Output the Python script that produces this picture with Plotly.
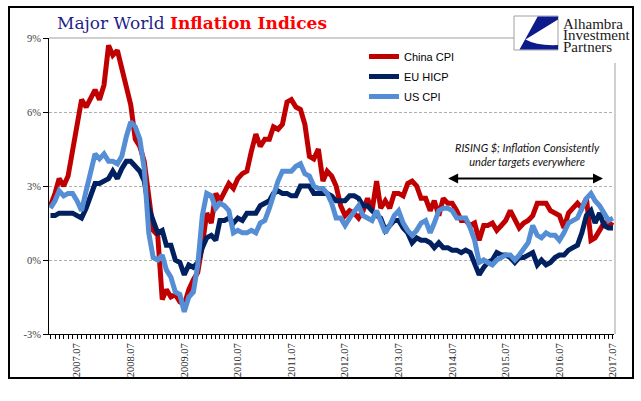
import pandas as pd
import plotly.graph_objects as go

# ---------------- data (monthly, Jan 2007 - Jul 2017, % y/y) ----------------
months = pd.date_range("2007-01-01", "2017-07-01", freq="MS")

china_cpi = [
    2.2, 2.7, 3.3, 3.0, 3.4, 4.4, 5.6, 6.5, 6.2, 6.5, 6.9, 6.5,
    7.1, 8.7, 8.3, 8.5, 7.7, 7.1, 6.3, 4.9, 4.6, 4.0, 2.4, 1.2,
    1.0, -1.6, -1.2, -1.5, -1.4, -1.7, -1.8, -1.2, -0.8, -0.5, 0.6, 1.9,
    1.5, 2.7, 2.4, 2.8, 3.1, 2.9, 3.3, 3.5, 3.6, 4.4, 5.1, 4.6,
    4.9, 4.9, 5.4, 5.3, 5.5, 6.4, 6.5, 6.2, 6.1, 5.5, 4.2, 4.1,
    4.5, 3.2, 3.6, 3.4, 3.0, 2.2, 1.8, 2.0, 1.9, 1.7, 2.0, 2.5,
    2.0, 3.2, 2.1, 2.4, 2.1, 2.7, 2.7, 2.6, 3.1, 3.2, 3.0, 2.5,
    2.5, 2.0, 2.4, 1.8, 2.5, 2.3, 2.3, 2.0, 1.6, 1.6, 1.4, 1.5,
    0.8, 1.4, 1.4, 1.5, 1.2, 1.4, 1.6, 2.0, 1.6, 1.3, 1.5, 1.6,
    1.8, 2.3, 2.3, 2.3, 2.0, 1.9, 1.8, 1.3, 1.9, 2.1, 2.3, 2.1,
    2.5, 0.8, 0.9, 1.2, 1.5, 1.5, 1.4,
]
eu_hicp = [
    1.8, 1.8, 1.9, 1.9, 1.9, 1.9, 1.8, 1.7, 2.1, 2.6, 3.1, 3.1,
    3.2, 3.3, 3.6, 3.3, 3.7, 4.0, 4.0, 3.8, 3.6, 3.2, 2.1, 1.6,
    1.1, 1.2, 0.6, 0.6, 0.0, -0.1, -0.6, -0.2, -0.3, -0.1, 0.5, 0.9,
    1.0, 0.8, 1.6, 1.6, 1.7, 1.5, 1.7, 1.6, 1.9, 1.9, 1.9, 2.2,
    2.3, 2.4, 2.7, 2.8, 2.7, 2.7, 2.6, 2.6, 3.0, 3.0, 3.0, 2.7,
    2.7, 2.7, 2.7, 2.6, 2.4, 2.4, 2.4, 2.6, 2.6, 2.5, 2.2, 2.2,
    2.0, 1.8, 1.7, 1.2, 1.4, 1.6, 1.6, 1.3, 1.1, 0.7, 0.9, 0.8,
    0.8, 0.7, 0.5, 0.7, 0.5, 0.5, 0.4, 0.4, 0.3, 0.4, 0.3, -0.2,
    -0.6, -0.3, -0.1, 0.0, 0.3, 0.2, 0.2, 0.1, -0.1, 0.1, 0.1, 0.2,
    0.3, -0.2, 0.0, -0.2, -0.1, 0.1, 0.2, 0.2, 0.4, 0.5, 0.6, 1.1,
    1.8, 2.0, 1.5, 1.9, 1.4, 1.3, 1.3,
]
us_cpi = [
    2.1, 2.4, 2.8, 2.6, 2.7, 2.7, 2.4, 2.0, 2.8, 3.5, 4.3, 4.1,
    4.3, 4.0, 4.0, 3.9, 4.2, 5.0, 5.6, 5.4, 4.9, 3.7, 1.1, 0.1,
    0.0, 0.2, -0.4, -0.7, -1.3, -1.4, -2.1, -1.5, -1.3, -0.2, 1.8, 2.7,
    2.6, 2.1, 2.3, 2.2, 2.0, 1.1, 1.2, 1.1, 1.1, 1.2, 1.1, 1.5,
    1.6, 2.1, 2.7, 3.2, 3.6, 3.6, 3.6, 3.8, 3.9, 3.5, 3.4, 3.0,
    2.9, 2.9, 2.7, 2.3, 1.7, 1.7, 1.4, 1.7, 2.0, 2.2, 1.8, 1.7,
    1.6, 2.0, 1.5, 1.1, 1.4, 1.8, 2.0, 1.5, 1.2, 1.0, 1.2, 1.5,
    1.6, 1.1, 1.5, 2.0, 2.1, 2.1, 2.0, 1.7, 1.7, 1.7, 1.3, 0.8,
    -0.1, 0.0, -0.1, -0.2, 0.0, 0.1, 0.2, 0.2, 0.0, 0.2, 0.5, 0.7,
    1.4, 1.0, 0.9, 1.1, 1.0, 1.0, 0.8, 1.1, 1.5, 1.6, 1.7, 2.1,
    2.5, 2.7, 2.4, 2.2, 1.9, 1.6, 1.7,
]

series_names = ["China CPI", "EU HICP", "US CPI"]
series_colors = ["#C00000", "#002060", "#558ED5"]

x_tickvals = [f"{y}-07-01" for y in range(2007, 2018)]
x_ticktext = [f"{y}.07" for y in range(2007, 2018)]
y_tickvals = [-3, 0, 3, 6, 9]
y_ticktext = ["-3%", "0%", "3%", "6%", "9%"]

# ---------------- layout helpers (pixel -> paper) ----------------
W, H = 641, 401
PL, PR, PT, PB = 49, 614, 38, 334


def fx(px):
    return (px - PL) / (PR - PL)


def fy(py):
    return (PB - py) / (PB - PT)


fig = go.Figure()
for name, vals, col in zip(series_names, [china_cpi, eu_hicp, us_cpi], series_colors):
    fig.add_trace(go.Scatter(
        x=months, y=vals, mode="lines", name=name, legendgroup=name,
        line=dict(color=col, width=5), hoverinfo="skip",
    ))

fig.update_layout(
    width=W, height=H,
    margin=dict(l=PL, r=W - PR, t=PT, b=H - PB, pad=0),
    paper_bgcolor="white", plot_bgcolor="white",
    hovermode=False,
    showlegend=True,
    legend=dict(
        x=fx(364), y=fy(42), xanchor="left", yanchor="top",
        bgcolor="rgba(0,0,0,0)", borderwidth=0, tracegroupgap=1,
        font=dict(family="Liberation Sans, Arial", size=11, color="#000000"),
    ),
    xaxis=dict(
        type="date",
        range=["2006-12-22", "2017-07-08"],
        tickmode="array", tickvals=x_tickvals, ticktext=x_ticktext,
        tickangle=-90,
        ticks="outside", ticklen=4, tickcolor="#000000",
        showline=True, linecolor="#000000", linewidth=1,
        showgrid=False, zeroline=False,
        tickfont=dict(family="Liberation Serif, Times New Roman", size=10.5, color="#262626"),
        minor=dict(ticks="outside", ticklen=4, tickcolor="#000000",
                   dtick="M1", tick0="2007-01-01", showgrid=False),
    ),
    yaxis=dict(
        range=[-3, 9],
        tickmode="array", tickvals=y_tickvals, ticktext=y_ticktext,
        ticks="outside", ticklen=5, tickcolor="#000000",
        showline=True, linecolor="#000000", linewidth=1,
        showgrid=True, gridcolor="#B0B0B0", gridwidth=1, griddash="3px,2px",
        zeroline=False,
        tickfont=dict(family="Liberation Serif, Times New Roman", size=10.5, color="#404040"),
    ),
)

shapes = []
# white patch behind the logo (hides grid at top right)
shapes.append(dict(type="rect", xref="paper", yref="paper",
                   x0=fx(511), x1=fx(632), y0=fy(60), y1=fy(9),
                   line=dict(width=0), fillcolor="white", layer="above"))
# plot border: top (solid) and right
shapes.append(dict(type="line", xref="paper", yref="paper",
                   x0=fx(49), x1=fx(514), y0=fy(38), y1=fy(38),
                   line=dict(color="#A0A0A0", width=1), layer="above"))
shapes.append(dict(type="line", xref="paper", yref="paper",
                   x0=fx(615), x1=fx(615), y0=fy(63), y1=fy(334),
                   line=dict(color="#A0A0A0", width=1), layer="above"))
# outer frame
shapes.append(dict(type="rect", xref="paper", yref="paper",
                   x0=fx(9), x1=fx(633), y0=fy(378), y1=fy(7),
                   line=dict(color="#000000", width=2), fillcolor="rgba(0,0,0,0)", layer="above"))
# logo box
shapes.append(dict(type="rect", xref="paper", yref="paper",
                   x0=fx(514), x1=fx(558), y0=fy(50), y1=fy(16),
                   line=dict(color="#A0A0A0", width=1), fillcolor="white", layer="above"))


def P(px, py):
    return f"{fx(px):.5f},{fy(py):.5f}"


logo_path = (
    f"M{P(537.7, 16.5)} L{P(558, 16.5)} L{P(558, 19.5)} L{P(525.5, 39.5)} "
    f"Q{P(537, 46)} {P(558, 45)} L{P(558, 49.5)} L{P(519.5, 49.5)} Z"
)
shapes.append(dict(type="path", xref="paper", yref="paper", path=logo_path,
                   fillcolor="#0C1A8C", line=dict(width=0), layer="above"))
fig.update_layout(shapes=shapes)

annotations = []
annotations.append(dict(
    xref="paper", yref="paper", x=fx(55), y=fy(23), xanchor="left", yanchor="middle",
    showarrow=False,
    text="<span style='color:#1F1F8C'>Major World</span> "
         "<span style='color:#FF0000'><b>Inflation Indices</b></span>",
    font=dict(family="DejaVu Serif", size=17),
))
for txt, py in zip(["Alhambra", "Investment", "Partners"], [23.5, 35, 46.5]):
    annotations.append(dict(
        xref="paper", yref="paper", x=fx(561), y=fy(py), xanchor="left", yanchor="middle",
        showarrow=False, text=txt,
        font=dict(family="Liberation Serif, Times New Roman", size=15, color="#1A1A1A"),
    ))
annotations.append(dict(
    xref="paper", yref="paper", x=fx(527), y=fy(154.5), xanchor="center", yanchor="middle",
    showarrow=False, align="center",
    text="<i>RISING $; Inflation Consistently</i><br><i>under targets everywhere</i>",
    font=dict(family="Lato", size=11, color="#111111"),
))
annotations.append(dict(
    xref="x", yref="y", x="2017-04-24", y=3.3, axref="x", ayref="y", ax="2014-05-24", ay=3.3,
    text="", showarrow=True, arrowhead=2, startarrowhead=2, arrowside="end+start",
    arrowsize=1, startarrowsize=1, arrowwidth=2, arrowcolor="#000000",
))
fig.update_layout(annotations=annotations)

fig.write_html("out.html", config={"displayModeBar": False, "staticPlot": True},
               post_script="document.body.style.margin='0';")
